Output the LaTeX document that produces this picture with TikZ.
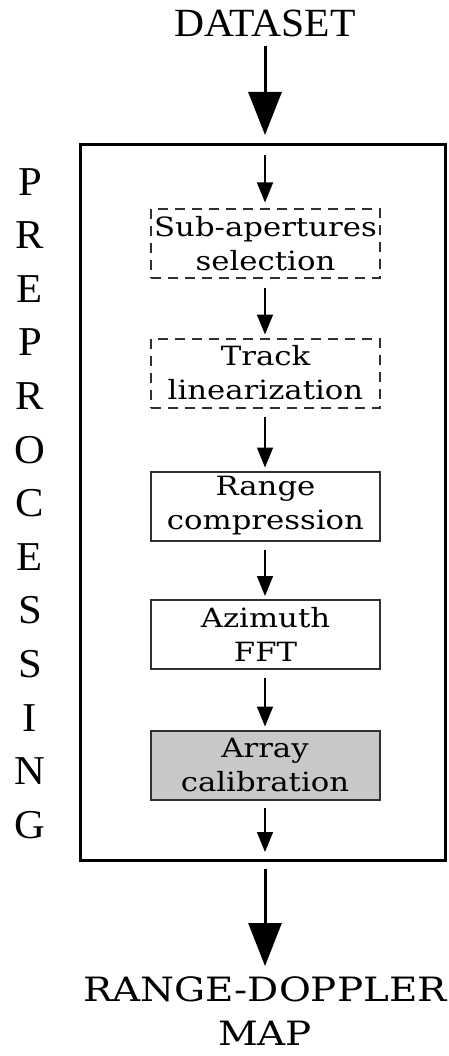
\documentclass[tikz,border=0pt]{standalone}
\usepackage{fontspec}
\setmainfont{Liberation Serif}
\newfontfamily\boxfont[FakeStretch=1.16]{DejaVu Serif}
\newfontfamily\titlefont[FakeStretch=1.04]{Liberation Serif}
\usetikzlibrary{arrows.meta}
\definecolor{calgray}{HTML}{C8C8C8}
\definecolor{edgegray}{HTML}{303030}
\tikzset{
  title/.style={inner sep=0pt, align=center},
  stage/.style={draw=edgegray, line width=2pt, minimum width=229pt, minimum height=69pt,
    inner sep=0pt, align=center, font=\boxfont\fontsize{26.5}{34}\selectfont},
  dashstage/.style={stage, dash pattern=on 10pt off 7pt},
  bigarrow/.style={line width=3pt, -{Triangle[width=33pt,length=43pt]}},
  smallarrow/.style={line width=1.5pt, -{Triangle[width=16pt,length=20pt]}},
}
\begin{document}
\begin{tikzpicture}[x=1pt,y=1pt]
\useasboundingbox (0,0) rectangle (449,-1056);
% title
\node[title, anchor=base, font=\titlefont\fontsize{40}{48}\selectfont] (dataset) at (265,-37) {DATASET};
% big frame
\node[draw=black, line width=3pt, minimum width=365pt, minimum height=715pt, inner sep=0pt] (pre) at (262.5,-502.5) {};
% side label
\node[title, anchor=north, font=\titlefont\fontsize{41}{53.6}\selectfont] (side) at (30,-168)
  {P\\R\\E\\P\\R\\O\\C\\E\\S\\S\\I\\N\\G};
% stages
\node[dashstage] (sub) at (265.5,-244) {Sub-apertures\\selection};
\node[dashstage] (track) at (265.5,-373) {Track\\linearization};
\node[stage] (range) at (265.5,-506) {Range\\compression};
\node[stage] (azim) at (265.5,-634.5) {Azimuth\\FFT};
\node[stage, fill=calgray] (array) at (265,-765) {Array\\calibration};
% output
\node[title, anchor=north, font=\boxfont\fontsize{33.5}{44}\selectfont] (rdm) at (265,-976) {RANGE-DOPPLER\\MAP};
% coordinates
\coordinate (inTop) at (265,-135);
\coordinate (inStart) at (265,-155);
\coordinate (outEnd) at (265,-852);
% connectors
\draw[bigarrow, shorten <=8pt] (dataset.south) -- (inTop);
\draw[smallarrow, shorten >=6pt] (inStart) -- (sub.north -| inStart);
\draw[smallarrow, shorten <=8pt, shorten >=3pt] (sub.south -| inStart) -- (track.north -| inStart);
\draw[smallarrow, shorten <=8pt, shorten >=3pt] (track.south -| inStart) -- (range.north -| inStart);
\draw[smallarrow, shorten <=8pt, shorten >=3pt] (range.south -| inStart) -- (azim.north -| inStart);
\draw[smallarrow, shorten <=8pt, shorten >=3pt] (azim.south -| inStart) -- (array.north -| inStart);
\draw[smallarrow, shorten <=7pt] (array.south -| inStart) -- (outEnd);
\draw[bigarrow, shorten <=7pt, shorten >=10pt] (pre.south -| inStart) -- (rdm.north);
\end{tikzpicture}
\end{document}
